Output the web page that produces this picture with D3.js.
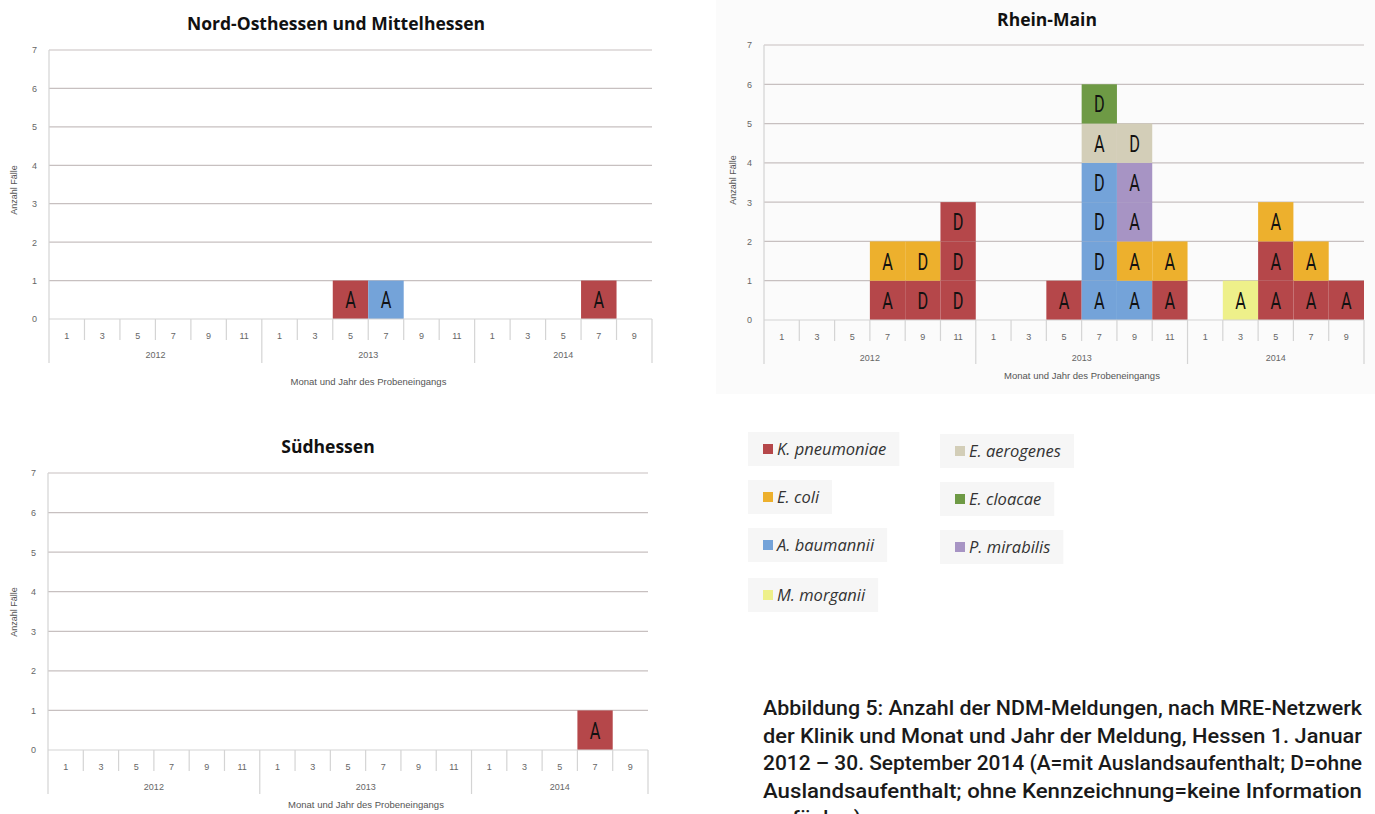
<!DOCTYPE html>
<html lang="de">
<head>
<meta charset="utf-8">
<title>NDM-Meldungen Hessen 2012–2014</title>
<script src="https://cdn.jsdelivr.net/npm/d3@7"></script>
<style>
  html, body { margin: 0; padding: 0; background: #ffffff; }
  svg { display: block; }
</style>
</head>
<body>
<svg id="chart" width="1375" height="814"></svg>
<script>
// Bimonthly reporting bins (month of sample receipt) per year
const years = ["2012", "2013", "2014"];
const monthsByYear = [
  ["1", "3", "5", "7", "9", "11"],
  ["1", "3", "5", "7", "9", "11"],
  ["1", "3", "5", "7", "9"]
];
const yTicks = [0, 1, 2, 3, 4, 5, 6, 7];

// Species and their fill colours
const species = ["K. pneumoniae", "E. coli", "A. baumannii", "M. morganii",
                 "E. aerogenes", "E. cloacae", "P. mirabilis"];
const speciesColors = ["#b5474a", "#edb02d", "#74a3d9", "#eef08a",
                       "#d3ceb8", "#6e9a45", "#a794c4"];

// Single cases: [bin, species, travel status], listed bottom to top within a bin
const nordOstCases = [
  ["2013-5", "K. pneumoniae", "A"],
  ["2013-7", "A. baumannii", "A"],
  ["2014-7", "K. pneumoniae", "A"]
];
const rheinMainCases = [
  ["2012-7", "K. pneumoniae", "A"], ["2012-7", "E. coli", "A"],
  ["2012-9", "K. pneumoniae", "D"], ["2012-9", "E. coli", "D"],
  ["2012-11", "K. pneumoniae", "D"], ["2012-11", "K. pneumoniae", "D"], ["2012-11", "K. pneumoniae", "D"],
  ["2013-5", "K. pneumoniae", "A"],
  ["2013-7", "A. baumannii", "A"], ["2013-7", "A. baumannii", "D"], ["2013-7", "A. baumannii", "D"],
  ["2013-7", "A. baumannii", "D"], ["2013-7", "E. aerogenes", "A"], ["2013-7", "E. cloacae", "D"],
  ["2013-9", "A. baumannii", "A"], ["2013-9", "E. coli", "A"], ["2013-9", "P. mirabilis", "A"],
  ["2013-9", "P. mirabilis", "A"], ["2013-9", "E. aerogenes", "D"],
  ["2013-11", "K. pneumoniae", "A"], ["2013-11", "E. coli", "A"],
  ["2014-3", "M. morganii", "A"],
  ["2014-5", "K. pneumoniae", "A"], ["2014-5", "K. pneumoniae", "A"], ["2014-5", "E. coli", "A"],
  ["2014-7", "K. pneumoniae", "A"], ["2014-7", "E. coli", "A"],
  ["2014-9", "K. pneumoniae", "A"]
];
const suedCases = [
  ["2014-7", "K. pneumoniae", "A"]
];

const captionLines = [
  "Abbildung 5: Anzahl der NDM-Meldungen, nach MRE-Netzwerk",
  "der Klinik und Monat und Jahr der Meldung, Hessen 1. Januar",
  "2012 – 30. September 2014 (A=mit Auslandsaufenthalt; D=ohne",
  "Auslandsaufenthalt; ohne Kennzeichnung=keine Information",
  "verfügbar)"
];

// ---------------------------------------------------------------
const svg = d3.select("#chart");
const color = d3.scaleOrdinal().domain(species).range(speciesColors);

const bins = [];
years.forEach((yr, i) => monthsByYear[i].forEach(m => bins.push({ key: yr + "-" + m, month: m, year: yr })));

const AXIS_FONT = "'Liberation Sans', Arial, sans-serif";
const AXIS_GREY = "#d4d4d4";

function drawPanel(cfg) {
  const g = svg.append("g");

  if (cfg.background) {
    g.append("rect")
      .attr("x", cfg.background[0]).attr("y", cfg.background[1])
      .attr("width", cfg.background[2]).attr("height", cfg.background[3])
      .attr("fill", "#fbfbfb");
  }

  const x = d3.scaleBand().domain(bins.map(b => b.key)).range([cfg.left, cfg.right]).padding(0);
  const y = d3.scaleLinear().domain([0, 7]).range([cfg.bottom, cfg.top]);

  // Title
  g.append("text")
    .attr("x", cfg.titleX).attr("y", cfg.titleY)
    .attr("text-anchor", "middle")
    .attr("font-family", "'Open Sans', sans-serif")
    .attr("font-weight", 700)
    .attr("font-size", 17.5)
    .attr("fill", "#111")
    .text(cfg.title);

  // Horizontal gridlines
  g.append("g").selectAll("line")
    .data(yTicks.filter(t => t > 0))
    .join("line")
    .attr("x1", cfg.left).attr("x2", cfg.right)
    .attr("y1", d => y(d)).attr("y2", d => y(d))
    .attr("stroke", "#c7c0c0").attr("stroke-width", 1.2);

  // y axis (labels only)
  const yAxis = d3.axisLeft(y).tickValues(yTicks).tickFormat(d3.format("d")).tickSize(0).tickPadding(12);
  const ya = g.append("g").attr("transform", `translate(${cfg.left},0)`).call(yAxis);
  ya.select(".domain").remove();
  ya.selectAll(".tick line").remove();
  ya.selectAll(".tick text")
    .attr("font-family", AXIS_FONT).attr("font-size", 9).attr("fill", "#666");

  // Vertical axis line, running down into the category rows
  g.append("line")
    .attr("x1", cfg.left).attr("x2", cfg.left)
    .attr("y1", cfg.top).attr("y2", cfg.bottom + 44)
    .attr("stroke", AXIS_GREY).attr("stroke-width", 1.2);

  // Stacked single-case boxes
  const level = new Map();
  const boxes = cfg.cases.map(([bin, sp, status]) => {
    const y0 = level.get(bin) || 0;
    level.set(bin, y0 + 1);
    return { bin, sp, status, y0, y1: y0 + 1 };
  });

  const cell = g.append("g").selectAll("g").data(boxes).join("g");
  cell.append("rect")
    .attr("x", d => x(d.bin))
    .attr("y", d => y(d.y1))
    .attr("width", x.bandwidth())
    .attr("height", d => y(d.y0) - y(d.y1))
    .attr("fill", d => color(d.sp));
  cell.append("text")
    .attr("transform", d => `translate(${x(d.bin) + x.bandwidth() / 2},${(y(d.y0) + y(d.y1)) / 2 + 8.5}) scale(0.68,1)`)
    .attr("text-anchor", "middle")
    .attr("font-family", "Roboto, sans-serif")
    .attr("font-size", 24)
    .attr("fill", "#111")
    .text(d => d.status);

  // Zero line
  g.append("line")
    .attr("x1", cfg.left).attr("x2", cfg.right)
    .attr("y1", y(0)).attr("y2", y(0))
    .attr("stroke", AXIS_GREY).attr("stroke-width", 1.2);

  // Category dividers (months) and longer year dividers
  const xg = g.append("g");
  bins.forEach((b, i) => {
    if (i === 0) return;
    const isYear = b.month === "1";
    xg.append("line")
      .attr("x1", x(b.key)).attr("x2", x(b.key))
      .attr("y1", y(0)).attr("y2", y(0) + (isYear ? 44 : 21))
      .attr("stroke", AXIS_GREY).attr("stroke-width", 1.2);
  });
  xg.append("line")
    .attr("x1", cfg.right).attr("x2", cfg.right)
    .attr("y1", y(0)).attr("y2", y(0) + 44)
    .attr("stroke", AXIS_GREY).attr("stroke-width", 1.2);

  xg.selectAll("text.month").data(bins).join("text")
    .attr("class", "month")
    .attr("x", d => x(d.key) + x.bandwidth() / 2)
    .attr("y", y(0) + 20)
    .attr("text-anchor", "middle")
    .attr("font-family", AXIS_FONT).attr("font-size", 9).attr("fill", "#666")
    .text(d => d.month);

  xg.selectAll("text.year").data(years).join("text")
    .attr("class", "year")
    .attr("x", yr => {
      const ks = bins.filter(b => b.year === yr);
      return (x(ks[0].key) + x(ks[ks.length - 1].key) + x.bandwidth()) / 2;
    })
    .attr("y", y(0) + cfg.yearDy)
    .attr("text-anchor", "middle")
    .attr("font-family", AXIS_FONT).attr("font-size", 9).attr("fill", "#666")
    .text(yr => yr);

  // Axis titles
  g.append("text")
    .attr("x", (cfg.left + cfg.right) / 2 + 18)
    .attr("y", y(0) + cfg.xTitleDy)
    .attr("text-anchor", "middle")
    .attr("font-family", AXIS_FONT).attr("font-size", 9.5).attr("fill", "#555")
    .text("Monat und Jahr des Probeneingangs");

  g.append("text")
    .attr("transform", `translate(${cfg.yTitleX},${cfg.yTitleY}) rotate(-90)`)
    .attr("text-anchor", "middle")
    .attr("font-family", AXIS_FONT).attr("font-size", 9).attr("fill", "#555")
    .text("Anzahl Fälle");
}

drawPanel({
  title: "Nord-Osthessen und Mittelhessen", titleX: 336, titleY: 30,
  left: 49, right: 652, top: 50, bottom: 319,
  yearDy: 39, xTitleDy: 66, yTitleX: 17, yTitleY: 190,
  cases: nordOstCases
});

drawPanel({
  title: "Rhein-Main", titleX: 1047, titleY: 26,
  left: 764, right: 1364, top: 45, bottom: 320,
  yearDy: 41, xTitleDy: 59, yTitleX: 736, yTitleY: 180,
  background: [716, 0, 659, 394],
  cases: rheinMainCases
});

drawPanel({
  title: "Südhessen", titleX: 328, titleY: 453,
  left: 48, right: 648, top: 473, bottom: 750,
  yearDy: 40, xTitleDy: 58, yTitleX: 17, yTitleY: 612,
  cases: suedCases
});

// Legend: two columns of species keys, each on a faint tile
const legendCols = [763, 955];
const legendRows = [449, 497, 545, 595];
const legendItems = species.map((sp, i) => {
  const col = i < 4 ? 0 : 1;
  const row = i < 4 ? i : i - 4;
  return { sp, x: legendCols[col], y: legendRows[row] + col * 2 };
});
const legend = svg.append("g");
const li = legend.selectAll("g").data(legendItems).join("g")
  .attr("transform", d => `translate(${d.x},${d.y})`);
const tile = li.append("rect").attr("fill", "#f6f6f6");
li.append("rect")
  .attr("x", 0).attr("y", -5).attr("width", 10).attr("height", 10)
  .attr("fill", d => color(d.sp));
const ltext = li.append("text")
  .attr("x", 14).attr("y", 6)
  .attr("font-family", "'Open Sans', sans-serif")
  .attr("font-style", "italic")
  .attr("font-size", 16.5)
  .attr("fill", "#333")
  .text(d => d.sp);
ltext.each(function (d) { d.w = this.getComputedTextLength(); });
tile.attr("x", -15).attr("y", -17).attr("height", 34).attr("width", d => d.w + 42);

// Caption, justified to a fixed column
const caption = svg.append("g");
caption.selectAll("text").data(captionLines).join("text")
  .attr("x", 763)
  .attr("y", (d, i) => 715 + i * 27.5)
  .attr("font-family", "Roboto, sans-serif")
  .attr("font-weight", 500)
  .attr("font-size", 21)
  .attr("fill", "#1a1a1a")
  .each(function (d, i) {
    if (i < captionLines.length - 1) {
      d3.select(this).attr("textLength", 599).attr("lengthAdjust", "spacingAndGlyphs");
    }
  })
  .text(d => d);
</script>
</body>
</html>
